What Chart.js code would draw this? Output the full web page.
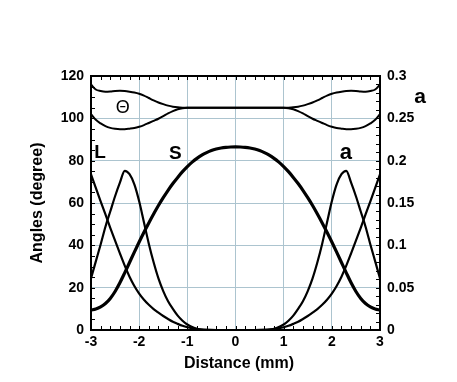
<!DOCTYPE html>
<html>
<head>
<meta charset="utf-8">
<script src="https://cdn.jsdelivr.net/npm/chart.js@4.4.1/dist/chart.umd.min.js"></script>
<style>
html,body{margin:0;padding:0;background:#fff;}
#wrap{width:457px;height:382px;}
</style>
</head>
<body>
<div id="wrap"><canvas id="c" width="457" height="382"></canvas></div>
<script>
// Distance (mm)
const distance = [-3.0,-2.9,-2.8,-2.7,-2.6,-2.5,-2.4,-2.3,-2.2,-2.1,-2.0,-1.9,-1.8,-1.7,-1.6,-1.5,-1.4,-1.3,-1.2,-1.1,-1.0,-0.9,-0.8,-0.7,-0.6,-0.5,-0.4,-0.3,-0.2,-0.1,0.0,
  0.1,0.2,0.3,0.4,0.5,0.6,0.7,0.8,0.9,1.0,1.1,1.2,1.3,1.4,1.5,1.6,1.7,1.8,1.9,2.0,2.1,2.2,2.3,2.4,2.5,2.6,2.7,2.8,2.9,3.0];
// S angle (degree)
const sAngle = [9.4,9.9,10.9,12.5,14.9,18.2,22.3,27.0,31.9,36.8,41.6,46.2,50.6,54.8,58.8,62.5,66.0,69.2,72.1,74.8,77.2,79.3,81.1,82.6,83.8,84.8,85.5,86.0,86.3,86.45,86.5,
  86.45,86.3,86.0,85.5,84.8,83.8,82.6,81.1,79.3,77.2,74.8,72.1,69.2,66.0,62.5,58.8,54.8,50.6,46.2,41.6,36.8,31.9,27.0,22.3,18.2,14.9,12.5,10.9,9.9,9.4];
// L angle (degree)
const lAngle = [73.5,67.1,60.8,54.6,48.3,42.2,36.2,30.4,25.2,20.8,17.2,14.3,11.9,9.9,8.2,6.6,5.2,3.9,2.9,2.0,1.3,0.8,0.45,0.2,0.08,0.02,0,0,0,0,0,
  0,0,0,0,0.02,0.08,0.2,0.45,0.8,1.3,2.0,2.9,3.9,5.2,6.6,8.2,9.9,11.9,14.3,17.2,20.8,25.2,30.4,36.2,42.2,48.3,54.6,60.8,67.1,73.5];
// a (right axis)
const aValue = [0.061,0.081,0.101,0.122,0.140,0.158,0.174,0.188,0.184,0.172,0.152,0.127,0.102,0.080,0.061,0.046,0.034,0.025,0.017,0.011,0.0065,0.0035,0.0015,0.0005,0.0001,0,0,0,0,0,0,
  0,0,0,0,0,0.0001,0.0005,0.0015,0.0035,0.0065,0.011,0.017,0.025,0.034,0.046,0.061,0.080,0.102,0.127,0.152,0.172,0.184,0.188,0.174,0.158,0.140,0.122,0.101,0.081,0.061];
// Theta upper branch (degree)
const thetaUpper = [116.0,113.6,112.9,112.6,112.7,112.9,113.0,112.9,112.6,112.2,111.6,110.7,109.6,108.5,107.5,106.7,106.0,105.5,105.2,105.05,105,105,105,105,105,105,105,105,105,105,105,
  105,105,105,105,105,105,105,105,105,105,105.05,105.2,105.5,106.0,106.7,107.5,108.5,109.6,110.7,111.6,112.2,112.6,112.9,113.0,112.9,112.7,112.6,112.9,113.6,116.0];
// Theta lower branch (degree)
const thetaLower = [102.0,99.3,97.6,96.3,95.5,95.1,94.9,94.9,95.1,95.4,96.0,96.8,97.8,98.8,99.8,101.0,102.3,103.4,104.3,104.8,105,105,105,105,105,105,105,105,105,105,105,
  105,105,105,105,105,105,105,105,105,105,104.8,104.3,103.4,102.3,101.0,99.8,98.8,97.8,96.8,96.0,95.4,95.1,94.9,94.9,95.1,95.5,96.3,97.6,99.3,102.0];

const xTicks = [-3,-2,-1,0,1,2,3];
const leftTicks = [0,20,40,60,80,100,120];
const rightTicks = [0,0.05,0.1,0.15,0.2,0.25,0.3];

const pts = arr => arr.map((v,i)=>({x:distance[i], y:v}));
const gridColor = 'rgb(172,196,207)';
const tickFont = {family:'Liberation Sans', size:14, weight:'bold'};

const overlay = {
  id:'overlay',
  afterDatasetsDraw(chart){
    const {ctx, chartArea:a, scales} = chart;
    const x = scales.x, y = scales.y, y1 = scales.y1;
    ctx.save();
    ctx.strokeStyle = '#000';
    ctx.lineWidth = 1;
    ctx.beginPath();
    for(let i=0;i<=30;i++){
      const px = Math.round(x.getPixelForValue(-3+i*0.2))+0.5;
      ctx.moveTo(px,a.bottom); ctx.lineTo(px,a.bottom-4);
      ctx.moveTo(px,a.top); ctx.lineTo(px,a.top+4);
    }
    for(let i=0;i<=24;i++){
      const py = Math.round(y.getPixelForValue(i*5))+0.5;
      ctx.moveTo(a.left,py); ctx.lineTo(a.left+4,py);
    }
    for(let i=0;i<=30;i++){
      const py = Math.round(y1.getPixelForValue(i*0.01))+0.5;
      ctx.moveTo(a.right,py); ctx.lineTo(a.right-4,py);
    }
    ctx.stroke();
    ctx.lineWidth = 2;
    ctx.strokeRect(a.left, a.top, a.right-a.left, a.bottom-a.top);
    ctx.fillStyle = '#000';
    ctx.textAlign = 'center';
    ctx.textBaseline = 'alphabetic';
    ctx.font = 'bold 19px "Liberation Sans"';
    ctx.fillText('L', x.getPixelForValue(-2.81), y.getPixelForValue(81.1));
    ctx.fillText('S', x.getPixelForValue(-1.25), y.getPixelForValue(80.8));
    ctx.font = 'bold 22px "Liberation Sans"';
    ctx.fillText('a', x.getPixelForValue(2.29), y.getPixelForValue(80.8));
    ctx.font = '18px "Liberation Sans"';
    ctx.fillText('\u0398', x.getPixelForValue(-2.34), y.getPixelForValue(102.4));
    ctx.font = 'bold 21px "Liberation Sans"';
    ctx.fillText('a', a.right + 40, y1.getPixelForValue(0.2677));
    ctx.font = 'bold 16px "Liberation Sans"';
    ctx.textBaseline = 'middle';
    ctx.fillText('Distance (mm)', 239, 364);
    ctx.translate(38, (a.top+a.bottom)/2);
    ctx.rotate(-Math.PI/2);
    ctx.fillText('Angles (degree)', 0, 0);
    ctx.restore();
  }
};

const lineDs = (label, data, axis, w) => ({
  label, data: pts(data), yAxisID: axis, borderColor:'#000', backgroundColor:'#000',
  borderWidth: w, pointRadius:0, fill:false, cubicInterpolationMode:'monotone'
});

new Chart(document.getElementById('c'), {
  type:'line',
  data:{ datasets:[
    lineDs('S', sAngle, 'y', 3.2),
    lineDs('L', lAngle, 'y', 2.2),
    lineDs('a', aValue, 'y1', 2.2),
    lineDs('Theta upper', thetaUpper, 'y', 2),
    lineDs('Theta lower', thetaLower, 'y', 2)
  ]},
  options:{
    responsive:false, animation:false, devicePixelRatio:1,
    layout:{padding:{top:76, left:0, right:0, bottom:0}},
    plugins:{legend:{display:false}, tooltip:{enabled:false}},
    scales:{
      x:{type:'linear', min:-3, max:3,
        afterBuildTicks: s => { s.ticks = xTicks.map(v=>({value:v})); },
        afterFit: s => { s.height = 52; },
        ticks:{font:tickFont, color:'#000', padding:4, maxRotation:0},
        grid:{color:gridColor, drawTicks:false, lineWidth:1},
        border:{display:false}},
      y:{position:'left', min:0, max:120,
        afterBuildTicks: s => { s.ticks = leftTicks.map(v=>({value:v})); },
        afterFit: s => { s.width = 91; },
        ticks:{font:tickFont, color:'#000', padding:7},
        grid:{color:gridColor, drawTicks:false, lineWidth:1},
        border:{display:false}},
      y1:{position:'right', min:0, max:0.3,
        afterBuildTicks: s => { s.ticks = rightTicks.map(v=>({value:v})); },
        afterFit: s => { s.width = 77; },
        ticks:{font:tickFont, color:'#000', padding:7, callback: v => String(Number(v.toFixed(2)))},
        grid:{display:false, drawTicks:false},
        border:{display:false}}
    }
  },
  plugins:[overlay]
});
</script>
</body>
</html>
